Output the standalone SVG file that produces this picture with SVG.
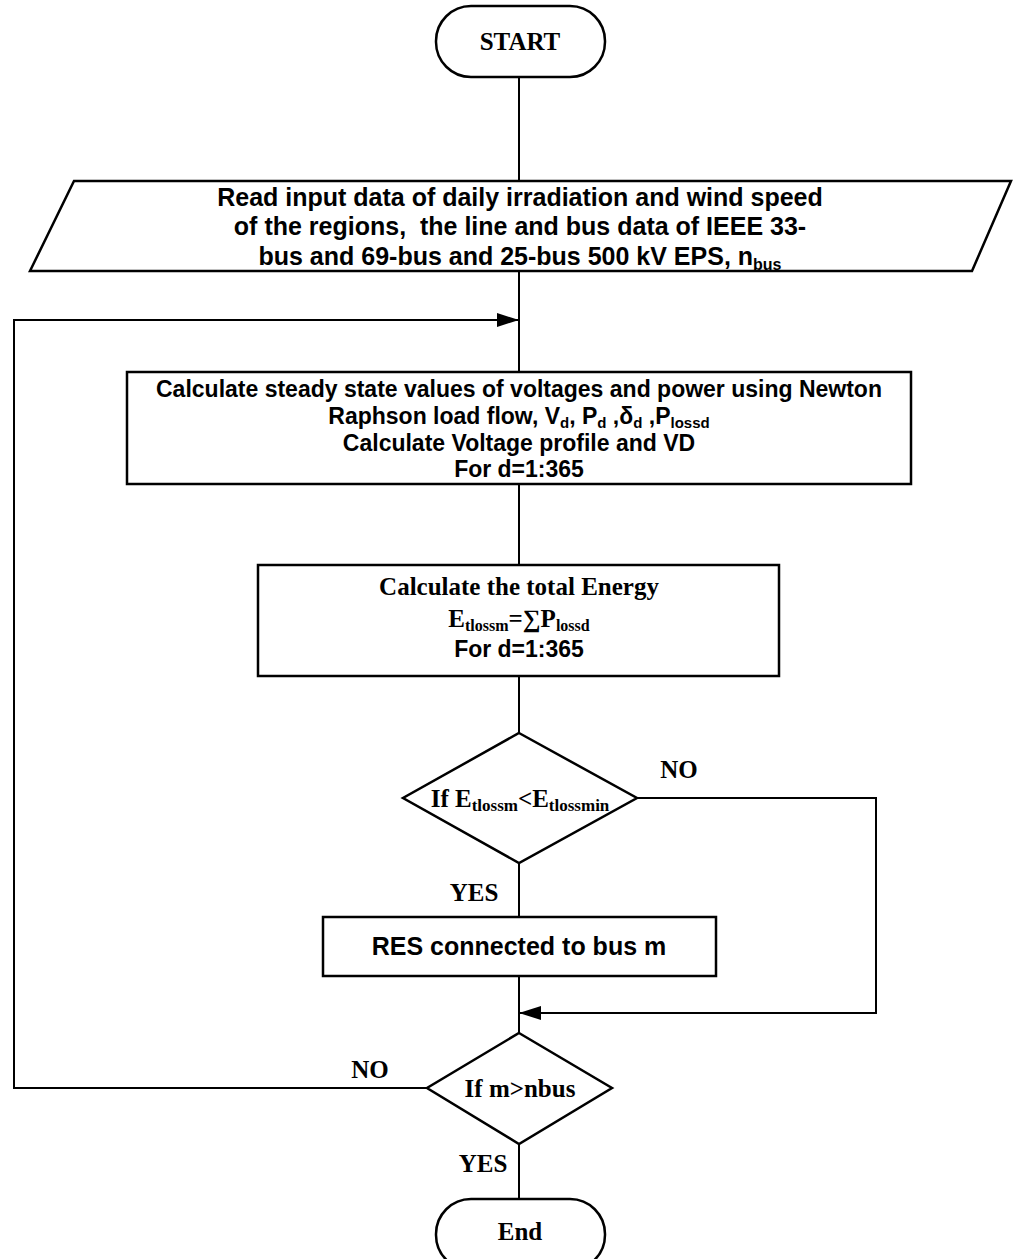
<svg xmlns="http://www.w3.org/2000/svg" width="1013" height="1259" viewBox="0 0 1013 1259">
<style>
.shape{fill:#fff;stroke:#000;stroke-width:2.5}
.line{fill:none;stroke:#000;stroke-width:2}
.a{font-family:"Liberation Sans",Arial,sans-serif;font-weight:bold;fill:#000;text-anchor:middle}
.t{font-family:"Liberation Serif","Times New Roman",serif;font-weight:bold;fill:#000;text-anchor:middle}
</style>
<defs>
<marker id="arr" markerWidth="22" markerHeight="14" refX="22" refY="7" orient="auto" markerUnits="userSpaceOnUse">
<path d="M0,0 L22,7 L0,14 z" fill="#000"/>
</marker>
</defs>
<rect width="1013" height="1259" fill="#fff"/>
<g id="connectors">
<line class="line" x1="519" y1="77" x2="519" y2="181"/>
<line class="line" x1="519" y1="271" x2="519" y2="372"/>
<polyline class="line" points="428,1088 14,1088 14,320 519,320" marker-end="url(#arr)"/>
<line class="line" x1="519" y1="484" x2="519" y2="565"/>
<line class="line" x1="519" y1="676" x2="519" y2="733"/>
<line class="line" x1="519" y1="863" x2="519" y2="917"/>
<polyline class="line" points="637,798 876,798 876,1013 519,1013" marker-end="url(#arr)"/>
<line class="line" x1="519" y1="976" x2="519" y2="1033"/>
<line class="line" x1="519" y1="1144" x2="519" y2="1199"/>
<text class="t" x="679" y="778" font-size="25">NO</text>
<text class="t" x="474" y="901" font-size="25">YES</text>
<text class="t" x="370" y="1078" font-size="25">NO</text>
<text class="t" x="483" y="1172" font-size="25">YES</text>
</g>
<g id="start">
<rect class="shape" x="436" y="6" width="169" height="71" rx="35" ry="35"/>
<text class="t" x="520" y="50" font-size="25">START</text>
</g>
<g id="input">
<polygon class="shape" points="74,181 1011,181 972,271 30,271"/>
<text class="a" x="520" y="206" font-size="25">Read input data of daily irradiation and wind speed</text>
<text class="a" x="520" y="235" font-size="25" xml:space="preserve">of the regions,  the line and bus data of IEEE 33-</text>
<text class="a" x="520" y="265" font-size="25">bus and 69-bus and 25-bus 500 kV EPS, n<tspan font-size="16" dy="5">bus</tspan></text>
</g>
<g id="loadflow">
<rect class="shape" x="127" y="372" width="784" height="112"/>
<text class="a" x="519" y="397" font-size="23">Calculate steady state values of voltages and power using Newton</text>
<text class="a" x="519" y="424" font-size="23">Raphson load flow, V<tspan font-size="15" dy="4">d</tspan><tspan dy="-4">, P</tspan><tspan font-size="15" dy="4">d</tspan><tspan dy="-4"> ,δ</tspan><tspan font-size="15" dy="4">d</tspan><tspan dy="-4"> ,P</tspan><tspan font-size="15" dy="4">lossd</tspan></text>
<text class="a" x="519" y="451" font-size="23">Calculate Voltage profile and VD</text>
<text class="a" x="519" y="477" font-size="23">For d=1:365</text>
</g>
<g id="energy">
<rect class="shape" x="258" y="565" width="521" height="111"/>
<text class="t" x="519" y="595" font-size="25">Calculate the total Energy</text>
<text class="t" x="519" y="627" font-size="25">E<tspan font-size="16" dy="4">tlossm</tspan><tspan dy="-4">=∑P</tspan><tspan font-size="16" dy="4">lossd</tspan></text>
<text class="a" x="519" y="657" font-size="23">For d=1:365</text>
</g>
<g id="decision1">
<polygon class="shape" points="519,733 637,798 519,863 403,798"/>
<text class="t" x="520" y="807" font-size="25">If E<tspan font-size="17" dy="4">tlossm</tspan><tspan dy="-4">&lt;E</tspan><tspan font-size="17" dy="4">tlossmin</tspan></text>
</g>
<g id="res">
<rect class="shape" x="323" y="917" width="393" height="59"/>
<text class="a" x="519" y="955" font-size="25">RES connected to bus m</text>
</g>
<g id="decision2">
<polygon class="shape" points="519,1033 612,1088 519,1144 427,1088"/>
<text class="t" x="520" y="1097" font-size="25">If m&gt;nbus</text>
</g>
<g id="end">
<rect class="shape" x="436" y="1199" width="169" height="71" rx="35" ry="35"/>
<text class="t" x="520" y="1240" font-size="25">End</text>
</g>
</svg>
